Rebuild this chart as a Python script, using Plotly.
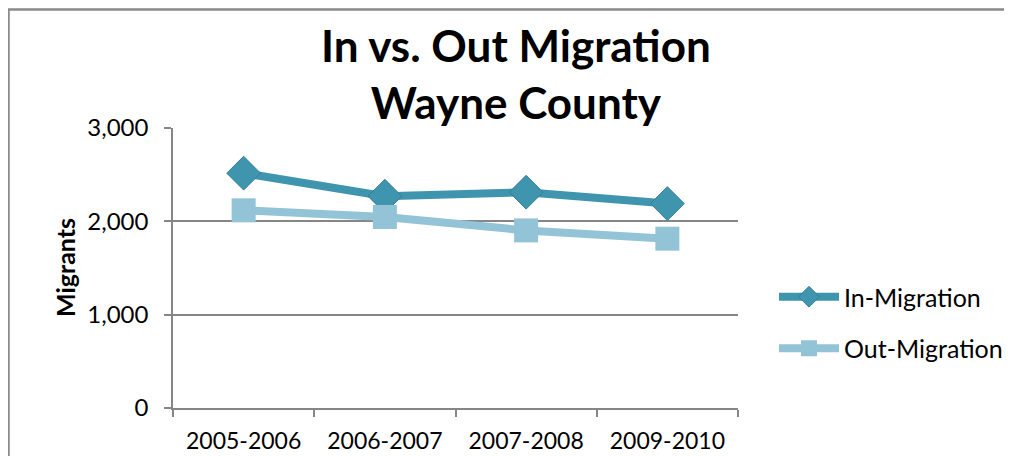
import plotly.graph_objects as go

# Data
periods = ["2005-2006", "2006-2007", "2007-2008", "2009-2010"]
in_migration = [2516, 2269, 2312, 2190]
out_migration = [2118, 2047, 1903, 1814]

FONT = "Lato"
GRID = "#868686"

# page body has an 8px margin, so the figure sits at (8, 8) on screen
OFF = 8
W, H = 1004, 448
# plot area in screen pixels
L, R, T, B = 173, 738, 128, 408


def px_x(sx):
    return (sx - L) / (R - L)


def px_y(sy):
    return (B - sy) / (B - T)


fig = go.Figure()

fig.add_trace(go.Scatter(
    x=periods, y=in_migration, mode="lines+markers", name="In-Migration",
    legendgroup="in",
    line=dict(color="#3f95ae", width=8),
    marker=dict(symbol="diamond", size=26, color="#3f95ae",
                line=dict(color="#357f95", width=1)),
))
fig.add_trace(go.Scatter(
    x=periods, y=out_migration, mode="lines+markers", name="Out-Migration",
    legendgroup="out",
    line=dict(color="#93c3d6", width=8),
    marker=dict(symbol="square", size=24, color="#93c3d6"),
))

fig.update_layout(
    width=W, height=H,
    margin=dict(l=L - OFF, r=W - (R - OFF), t=T - OFF, b=H - (B - OFF),
                autoexpand=False),
    paper_bgcolor="#f0f0f0",
    plot_bgcolor="white",
    font=dict(family=FONT, color="black", size=23),
    showlegend=True,
    legend=dict(x=px_x(774), y=px_y(274), xanchor="left", yanchor="top",
                font=dict(size=25), traceorder="grouped", tracegroupgap=16,
                itemwidth=60, bgcolor="rgba(0,0,0,0)"),
)

fig.update_xaxes(
    type="category", range=[-0.5, 3.5], tickson="boundaries",
    showgrid=False, showline=True, linecolor=GRID, linewidth=1.5,
    ticks="outside", ticklen=7, tickcolor=GRID, tickwidth=1.5,
    tickfont=dict(size=23), ticklabelstandoff=12, zeroline=False,
)
fig.update_yaxes(
    range=[0, 3000], dtick=1000, tickformat=",",
    showgrid=True, gridcolor=GRID, gridwidth=1.5,
    showline=True, linecolor=GRID, linewidth=1.5,
    ticks="outside", ticklen=7, tickcolor=GRID, tickwidth=1.5,
    tickfont=dict(size=24), ticklabelstandoff=11, zeroline=False,
)

# white chart area with gray border (cropped at right/bottom)
fig.add_shape(type="rect", xref="paper", yref="paper", layer="below",
              x0=px_x(8.5), x1=px_x(1040), y0=px_y(500), y1=px_y(9.5),
              fillcolor="white", line=dict(color="#8a8a8a", width=2.5))

fig.add_annotation(
    text="<b>In vs. Out Migration<br>Wayne County</b>",
    xref="paper", yref="paper", x=px_x(516), y=px_y(73),
    xanchor="center", yanchor="middle", showarrow=False,
    font=dict(family=FONT, size=44, color="black"),
)
fig.add_annotation(
    text="<b>Migrants</b>", textangle=-90,
    xref="paper", yref="paper", x=px_x(65), y=px_y(268),
    xanchor="center", yanchor="middle", showarrow=False,
    font=dict(family=FONT, size=25, color="black"),
)

fig.write_html("out.html")
